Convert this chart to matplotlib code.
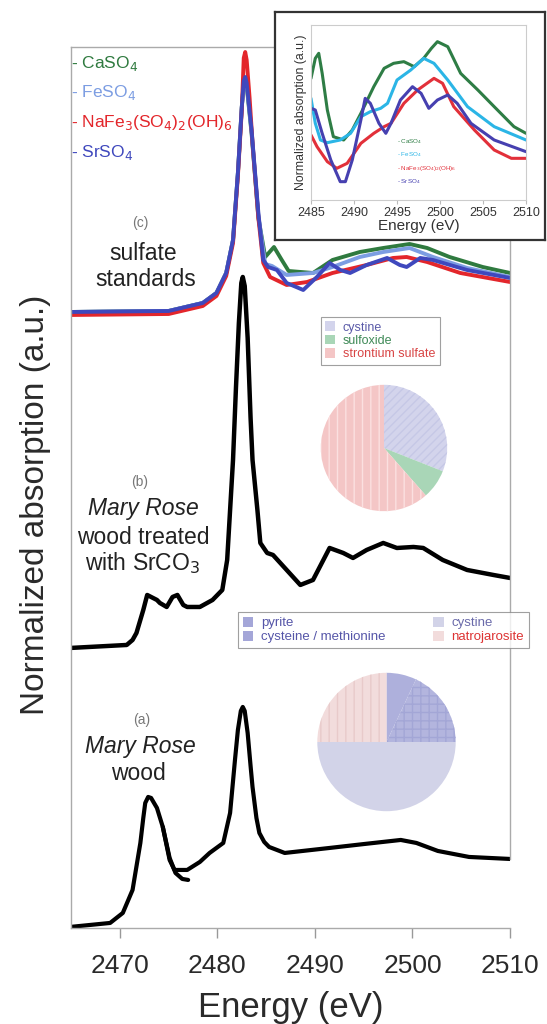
import matplotlib.pyplot as plt
from matplotlib.patches import Patch

plt.rcParams['font.family'] = ['Liberation Sans', 'DejaVu Sans']
plt.rcParams['hatch.linewidth'] = 1.0

# ---- main panel: stacked S K-edge spectra (offsets already included) ----
# (a) Mary Rose wood
e_a = [2464.9, 2469.0, 2470.3, 2471.3, 2472.1, 2472.4, 2472.6, 2472.9, 2473.2, 2473.8,
       2474.4, 2475.1, 2475.6, 2476.9, 2478.2, 2479.2, 2480.6, 2481.3, 2481.8, 2482.1,
       2482.4, 2482.6, 2482.8, 2483.1, 2483.4, 2483.6, 2484.0, 2484.3, 2484.8, 2485.3,
       2486.9, 2491.5, 2495.1, 2498.8, 2500.4, 2502.6, 2505.8, 2510.0]
y_a = [0.01, 0.05, 0.15, 0.38, 0.85, 1.10, 1.25, 1.31, 1.30, 1.20,
       1.01, 0.68, 0.58, 0.58, 0.66, 0.75, 0.85, 1.15, 1.68, 1.98,
       2.17, 2.21, 2.17, 1.95, 1.62, 1.41, 1.10, 0.95, 0.86, 0.81,
       0.75, 0.80, 0.84, 0.88, 0.85, 0.77, 0.71, 0.69]
# second scan overlapping after the first peak
e_a2 = [2474.4, 2475.1, 2475.7, 2476.4, 2477.0]
y_a2 = [1.01, 0.70, 0.55, 0.49, 0.48]

# (b) Mary Rose wood treated with SrCO3
e_b = [2464.9, 2470.7, 2471.3, 2471.7, 2472.4, 2472.8, 2473.4, 2473.8, 2474.1, 2474.8,
       2475.4, 2475.9, 2476.5, 2476.9, 2478.2, 2479.5, 2480.5, 2481.0, 2481.3, 2481.6,
       2481.9, 2482.2, 2482.45, 2482.6, 2482.8, 2483.1, 2483.4, 2483.6, 2484.1, 2484.4,
       2485.1, 2485.7, 2487.1, 2488.5, 2489.8, 2491.5, 2492.9, 2493.9, 2495.3, 2497.0,
       2498.4, 2500.1, 2501.1, 2503.1, 2505.6, 2508.3, 2510.0]
y_b = [2.80, 2.83, 2.88, 2.95, 3.18, 3.33, 3.30, 3.28, 3.25, 3.21,
       3.31, 3.33, 3.23, 3.21, 3.21, 3.28, 3.38, 3.68, 4.18, 4.68,
       5.40, 6.05, 6.45, 6.51, 6.42, 5.90, 5.10, 4.68, 4.18, 3.85,
       3.75, 3.73, 3.58, 3.43, 3.48, 3.80, 3.75, 3.70, 3.78, 3.85,
       3.80, 3.81, 3.80, 3.68, 3.58, 3.53, 3.50]

# (c) sulfate standards
e_rise = [2464.9, 2475.0, 2478.5, 2479.9, 2480.9, 2481.6, 2482.1, 2482.5]
y_rise = [6.16, 6.17, 6.25, 6.35, 6.55, 6.88, 7.55, 8.21]
e_caso4 = e_rise + [2482.7, 2482.85, 2483.0, 2483.5, 2484.2, 2484.9, 2485.8, 2486.6, 2487.3,
                    2489.8, 2491.8, 2494.6, 2497.0, 2499.7, 2501.5, 2503.8, 2507.2, 2510.0]
y_caso4 = y_rise + [8.44, 8.48, 8.42, 7.95, 7.10, 6.71, 6.81, 6.68, 6.57,
                    6.55, 6.68, 6.76, 6.80, 6.84, 6.80, 6.71, 6.61, 6.55]
e_feso4 = e_rise + [2482.7, 2482.85, 2483.0, 2483.5, 2484.2, 2484.9, 2485.6, 2487.1, 2489.8,
                    2491.8, 2494.6, 2497.0, 2499.7, 2502.1, 2505.6, 2510.0]
y_feso4 = y_rise + [8.46, 8.50, 8.44, 7.97, 7.12, 6.64, 6.62, 6.53, 6.55,
                    6.61, 6.71, 6.76, 6.80, 6.71, 6.60, 6.51]
e_nafe = e_rise + [2482.7, 2482.85, 2483.0, 2483.3, 2483.6, 2484.2, 2484.7, 2485.4, 2487.1,
                   2489.2, 2491.8, 2495.3, 2498.0, 2499.4, 2501.5, 2504.9, 2510.0]
y_nafe = [v - 0.03 for v in y_rise] + [8.70, 8.76, 8.68, 8.30, 7.85, 7.10, 6.65, 6.51, 6.43,
                                        6.46, 6.55, 6.63, 6.70, 6.71, 6.66, 6.55, 6.46]
e_srso4 = e_rise + [2482.7, 2482.85, 2483.0, 2483.5, 2484.2, 2484.7, 2485.2, 2486.1, 2487.1,
                    2488.8, 2490.2, 2491.5, 2492.6, 2493.6, 2495.3, 2497.4, 2498.7, 2499.4,
                    2500.8, 2502.1, 2505.6, 2510.0]
y_srso4 = y_rise + [8.47, 8.51, 8.45, 7.98, 7.15, 6.68, 6.61, 6.58, 6.45,
                    6.38, 6.51, 6.65, 6.58, 6.55, 6.63, 6.70, 6.63, 6.61,
                    6.70, 6.68, 6.58, 6.50]

# ---- inset: post-edge region of the standards ----
ie_caso4 = [2485.0, 2485.5, 2485.9, 2486.3, 2486.9, 2487.6, 2488.8, 2489.8, 2490.8, 2492.3,
            2493.5, 2494.6, 2495.8, 2497.0, 2498.1, 2499.0, 2499.7, 2500.9, 2502.4, 2504.4,
            2506.3, 2508.6, 2510.0]
iy_caso4 = [3.65, 4.25, 4.40, 3.80, 2.70, 1.90, 1.80, 2.10, 2.60, 3.40,
            3.95, 4.10, 4.15, 4.00, 4.25, 4.55, 4.75, 4.60, 3.80, 3.30,
            2.80, 2.20, 2.00]
ie_feso4 = [2485.0, 2485.5, 2486.1, 2486.9, 2488.4, 2489.6, 2490.8, 2491.9, 2493.1, 2493.9,
            2495.0, 2496.6, 2498.1, 2499.3, 2500.9, 2503.2, 2506.3, 2510.0]
iy_feso4 = [3.05, 2.30, 1.80, 1.72, 1.80, 2.00, 2.50, 2.65, 2.75, 2.90,
            3.60, 3.90, 4.25, 4.10, 3.60, 2.80, 2.20, 1.80]
ie_nafe = [2485.0, 2485.7, 2486.9, 2488.0, 2489.2, 2490.8, 2492.3, 2493.5, 2494.3, 2495.8,
           2497.4, 2499.3, 2500.3, 2501.6, 2504.0, 2506.3, 2508.3, 2510.0]
iy_nafe = [1.95, 1.60, 1.15, 0.95, 1.10, 1.70, 2.00, 2.20, 2.30, 2.90,
           3.30, 3.65, 3.50, 2.80, 2.10, 1.50, 1.25, 1.25]
ie_srso4 = [2485.0, 2485.5, 2486.3, 2487.3, 2488.4, 2489.0, 2489.8, 2490.8, 2491.3, 2491.9,
            2492.9, 2493.7, 2494.3, 2495.4, 2496.8, 2497.8, 2498.7, 2499.7, 2500.9, 2502.0,
            2503.6, 2506.3, 2510.0]
iy_srso4 = [2.75, 2.70, 2.00, 1.20, 0.55, 0.55, 1.20, 2.40, 3.05, 2.90,
            2.30, 2.00, 2.30, 3.00, 3.40, 3.20, 2.75, 3.00, 3.15, 2.90,
            2.30, 1.80, 1.45]

# ---- pie charts (linear combination fits, %) ----
pie_b_labels = ['cystine', 'sulfoxide', 'strontium sulfate']
pie_b_values = [31, 7.5, 61.5]
pie_a_labels = ['pyrite', 'cysteine / methionine', 'cystine', 'natrojarosite']
pie_a_values = [7, 18, 50, 25]

xticks = [2470, 2480, 2490, 2500, 2510]
inset_xticks = [2485, 2490, 2495, 2500, 2505, 2510]

c_green = '#2f7a3f'
c_fe = '#7c9de2'
c_red = '#e3262b'
c_blue = '#3f48bd'

fig = plt.figure(figsize=(5.47, 10.24), dpi=100)
ax = fig.add_axes([0.130, 0.0938, 0.8024, 0.8603])

kw = dict(solid_joinstyle='round', solid_capstyle='round')
ax.plot(e_a, y_a, color='black', lw=3.0, **kw)
ax.plot(e_a2, y_a2, color='black', lw=3.0, **kw)
ax.plot(e_b, y_b, color='black', lw=3.2, **kw)
ax.plot(e_caso4, y_caso4, color=c_green, lw=2.8, **kw)
ax.plot(e_feso4, y_feso4, color=c_fe, lw=2.8, **kw)
ax.plot(e_nafe, y_nafe, color=c_red, lw=2.8, **kw)
ax.plot(e_srso4, y_srso4, color=c_blue, lw=2.8, **kw)

ax.set_xlim(2465, 2510)
ax.set_ylim(0, 8.81)
ax.set_xticks(xticks)
ax.set_yticks([])
ax.tick_params(axis='x', direction='out', length=7, width=1, color='#999999',
               labelsize=19, labelcolor='#2a2a2a', pad=12)
for s in ['left', 'bottom', 'top', 'right']:
    ax.spines[s].set_color('#aaaaaa')
    ax.spines[s].set_linewidth(1.0)
ax.spines['right'].set_bounds(0.69, 8.81)
ax.set_xlabel('Energy (eV)', fontsize=25, color='#2a2a2a', labelpad=9)
fig.text(36 / 547, 1 - 505 / 1024, 'Normalized absorption (a.u.)', rotation=90,
         ha='center', va='center', fontsize=24, color='#2a2a2a')

# legend of the standards (text only)
leg_txt = [('- CaSO$_4$', c_green, 68), ('- FeSO$_4$', c_fe, 97),
           ('- NaFe$_3$(SO$_4$)$_2$(OH)$_6$', c_red, 127), ('- SrSO$_4$', c_blue, 157)]
for t, c, py in leg_txt:
    fig.text(71 / 547, 1 - py / 1024, t, color=c, fontsize=12.5, ha='left', va='baseline')

# panel labels
def lab(px, py, s, **kw):
    fig.text(px / 547, 1 - py / 1024, s, ha='center', va='center', **kw)

lab(140, 223, '(c)', fontsize=10, color='#777777')
lab(143, 253, 'sulfate', fontsize=16.5, color='#222222')
lab(146, 280, 'standards', fontsize=16.5, color='#222222')
lab(140, 482, '(b)', fontsize=10, color='#777777')
lab(143, 509, 'Mary Rose', fontsize=16.5, color='#222222', style='italic')
lab(143, 537, 'wood treated', fontsize=16.5, color='#222222')
lab(143, 563, 'with SrCO$_3$', fontsize=16.5, color='#222222')
lab(142, 720, '(a)', fontsize=10, color='#777777')
lab(140, 747, 'Mary Rose', fontsize=16.5, color='#222222', style='italic')
lab(138, 773, 'wood', fontsize=16.5, color='#222222')

# ---- inset ----
box = fig.add_axes([275 / 547, 1 - 240 / 1024, 270 / 547, 228 / 1024])
box.set_xticks([])
box.set_yticks([])
for s in box.spines.values():
    s.set_color('#333333')
    s.set_linewidth(1.6)

ins = fig.add_axes([311 / 547, 1 - 200 / 1024, 215 / 547, 175 / 1024])
ins.plot(ie_caso4, iy_caso4, color='#2e7d45', lw=2.2, **kw)
ins.plot(ie_feso4, iy_feso4, color='#2bb5e6', lw=2.2, **kw)
ins.plot(ie_nafe, iy_nafe, color='#e2303a', lw=2.2, **kw)
ins.plot(ie_srso4, iy_srso4, color='#4640b0', lw=2.2, **kw)
ins.set_xlim(2485, 2510)
ins.set_ylim(0, 5.25)
ins.set_xticks(inset_xticks)
ins.set_yticks([])
ins.tick_params(axis='x', length=3, color='#bbbbbb', labelsize=9, labelcolor='#333333', pad=2)
for s in ins.spines.values():
    s.set_color('#cccccc')
    s.set_linewidth(0.8)
ins.set_xlabel('Energy (eV)', fontsize=11, color='#333333', labelpad=0)
ins.set_ylabel('Normalized absorption (a.u.)', fontsize=8.8, color='#333333', labelpad=3)
ins_leg = [('- CaSO$_4$', '#2e7d45'), ('- FeSO$_4$', '#2bb5e6'),
           ('- NaFe$_3$(SO$_4$)$_2$(OH)$_6$', '#e2303a'), ('- SrSO$_4$', '#4640b0')]
for i, (t, c) in enumerate(ins_leg):
    ins.text(0.40, 0.333 - i * 0.076, t, color=c, fontsize=4.5, transform=ins.transAxes,
             va='center')

# ---- pie (b) ----
pb = fig.add_axes([305 / 547, 1 - 527 / 1024, 158 / 547, 158 / 1024])
cols_b = ['#d3d4ec', '#a9d6b7', '#f4c6c6']
edge_b = ['#c6c8e6', '#a9d6b7', '#fbe0e0']
hat_b = ['////', '', '||']
wb, _ = pb.pie(pie_b_values, startangle=90, counterclock=False, colors=cols_b,
               wedgeprops=dict(linewidth=0))
for w, ec, h in zip(wb, edge_b, hat_b):
    w.set_edgecolor(ec)
    w.set_hatch(h)
pb.set_aspect('auto')
handles_b = [Patch(facecolor=c, edgecolor='none') for c in cols_b]
lb = fig.legend(handles_b, pie_b_labels, loc='upper left',
                bbox_to_anchor=(321 / 547, 1 - 317 / 1024), fontsize=9,
                frameon=True, fancybox=False, edgecolor='#888888', borderpad=0.35,
                borderaxespad=0, handlelength=0.8, handleheight=0.8, handletextpad=0.6,
                labelspacing=0.1)
lb.get_frame().set_linewidth(0.8)
for t, c in zip(lb.get_texts(), ['#5a5aa8', '#3f8a57', '#d84545']):
    t.set_color(c)

# ---- pie (a) ----
pa = fig.add_axes([300 / 547, 1 - 828.5 / 1024, 173 / 547, 173 / 1024])
cols_a = ['#aeb0dc', '#b3b5de', '#d2d3e8', '#f2dcdc']
edge_a = ['#aeb0dc', '#a3a6d6', '#d2d3e8', '#e8caca']
hat_a = ['', '++', '', '||']
wa, _ = pa.pie(pie_a_values, startangle=90, counterclock=False, colors=cols_a,
               wedgeprops=dict(linewidth=0))
for w, ec, h in zip(wa, edge_a, hat_a):
    w.set_edgecolor(ec)
    w.set_hatch(h)
pa.set_aspect('auto')
handles_a = [Patch(facecolor=c, edgecolor='none') for c in ['#a4a6d8', '#a4a6d8', '#d2d3e8', '#f2dcdc']]
la = fig.legend(handles_a, pie_a_labels, loc='upper left', ncol=2,
                bbox_to_anchor=(238 / 547, 1 - 612 / 1024), fontsize=9.5,
                frameon=True, fancybox=False, edgecolor='#888888', borderpad=0.35,
                borderaxespad=0, handlelength=0.8, handleheight=0.8, handletextpad=0.6,
                labelspacing=0.1, columnspacing=3.6)
la.get_frame().set_linewidth(0.8)
for t, c in zip(la.get_texts(), ['#5555a8', '#5555a8', '#6a6aaa', '#dd3333']):
    t.set_color(c)

fig.savefig('out.png', dpi=100)
